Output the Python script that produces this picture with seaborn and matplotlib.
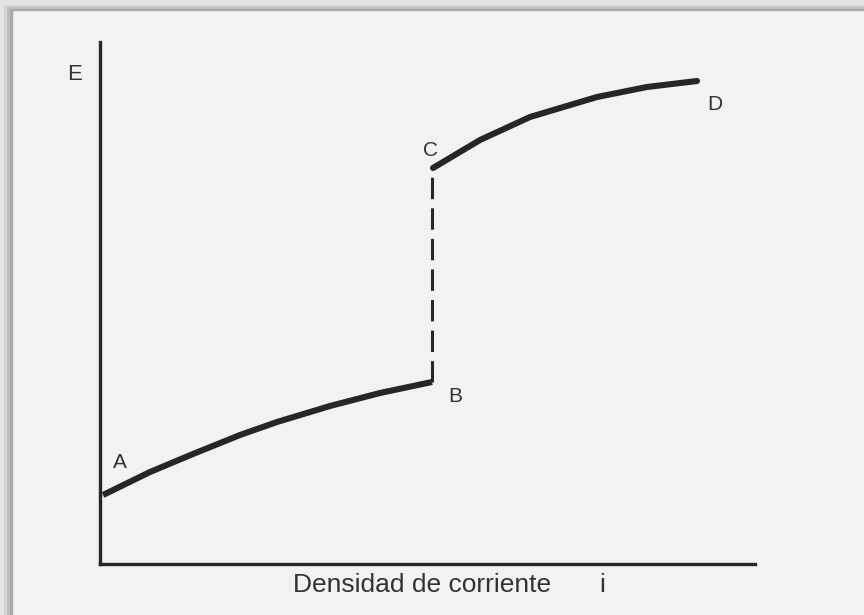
import matplotlib
matplotlib.use('Agg')
import matplotlib.pyplot as plt
import pandas as pd
import seaborn as sns
from matplotlib.patches import Rectangle

sns.set_style("white")
plt.rcParams['font.family'] = ['Liberation Sans', 'DejaVu Sans']

# curve values (arbitrary units: x = current density, y = E)
ab_x = [3, 50, 93, 140, 177, 230, 280, 332]
ab_y = [69, 92, 110, 129, 142, 158, 171, 182]
bc_x = [332, 332]
bc_y = [182, 394]
cd_x = [333, 380, 430, 497, 547, 597]
cd_y = [396, 424, 447, 467, 477, 483]

point_names = ["A", "B", "C", "D"]
point_x = [20, 355, 330, 615]
point_y = [102, 167, 414, 459]

ab = pd.DataFrame({"i": ab_x, "E": ab_y})
bc = pd.DataFrame({"i": bc_x, "E": bc_y})
cd = pd.DataFrame({"i": cd_x, "E": cd_y})

bg = "#f3f1f4"
ink = "#262626"
txt = "#333333"

fig = plt.figure(figsize=(8.64, 6.15), dpi=100, facecolor=bg)
ax = fig.add_axes([100 / 864, 51 / 615, 655 / 864, 522 / 615])
ax.set_facecolor(bg)

sns.lineplot(data=ab, x="i", y="E", ax=ax, color=ink, linewidth=4.4,
             estimator=None, sort=False, solid_capstyle="butt",
             solid_joinstyle="round")
sns.lineplot(data=bc, x="i", y="E", ax=ax, color=ink, linewidth=2.2,
             estimator=None, sort=False, linestyle=(0, (7, 3)))
sns.lineplot(data=cd, x="i", y="E", ax=ax, color=ink, linewidth=4.4,
             estimator=None, sort=False, solid_capstyle="round",
             solid_joinstyle="round")

for name, x, y in zip(point_names, point_x, point_y):
    ax.text(x, y, name, fontsize=15, color=txt, ha="center", va="center")

ax.text(-25, 489, "E", fontsize=16, color=txt, ha="center", va="center",
        clip_on=False)
ax.text(322, -21, "Densidad de corriente", fontsize=19, color=txt,
        ha="center", va="center", clip_on=False)
ax.text(502, -21, "i", fontsize=19, color=txt, ha="center", va="center",
        clip_on=False)

ax.set_xlim(0, 655)
ax.set_ylim(0, 522)
ax.set_xlabel("")
ax.set_ylabel("")
ax.set_xticks([])
ax.set_yticks([])
for side in ["top", "right"]:
    ax.spines[side].set_visible(False)
for side in ["left", "bottom"]:
    ax.spines[side].set_color(ink)
    ax.spines[side].set_linewidth(2.4)

# scan shadow along the top and left edges
for k, shade in enumerate(["#a9a9a9", "#bdbdbd", "#d2d2d2", "#e4e3e5"]):
    fig.patches.append(Rectangle((0, 1 - (10 - 2 * k) / 615), 1, (10 - 2 * k) / 615,
                                 transform=fig.transFigure, color=shade,
                                 zorder=-1 + k * 0.01))
    fig.patches.append(Rectangle((0, 0), (12 - 3 * k) / 864, 1,
                                 transform=fig.transFigure, color=shade,
                                 zorder=-1 + k * 0.01))

fig.savefig("out.png", dpi=100, facecolor=bg)
